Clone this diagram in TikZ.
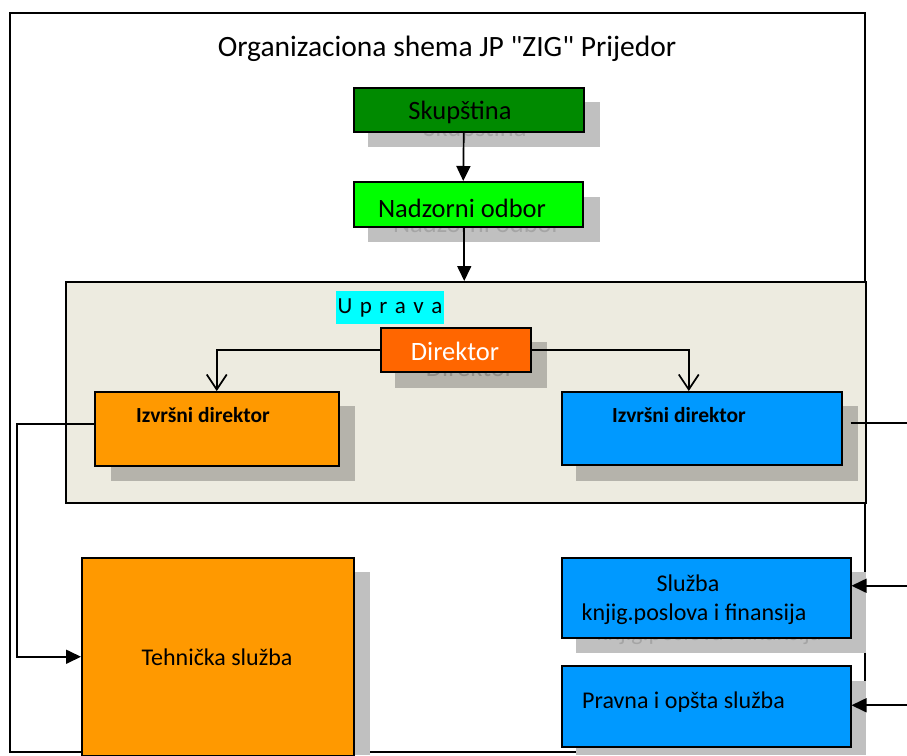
\documentclass[tikz,border=0pt]{standalone}
\usepackage{fontspec}
\setmainfont{Carlito}[Ligatures=TeXOff]
\usetikzlibrary{arrows.meta,calc}
\definecolor{skupgreen}{RGB}{0,138,0}
\definecolor{nadgreen}{RGB}{0,255,0}
\definecolor{upravabg}{RGB}{237,235,224}
\definecolor{labelcyan}{RGB}{0,255,255}
\definecolor{dirorange}{RGB}{255,102,0}
\definecolor{boxorange}{RGB}{255,153,0}
\definecolor{boxblue}{RGB}{0,153,255}
\definecolor{shadowout}{RGB}{192,192,192}
\definecolor{shadowin}{RGB}{181,179,171}
\definecolor{ghosttext}{RGB}{165,165,165}
\tikzset{
  box/.style={draw=black, line width=1.5pt, anchor=north west, inner sep=0pt},
  txt/.style={inner sep=0pt, font=\fontsize{24}{28}\selectfont},
  bigtxt/.style={inner sep=0pt, font=\fontsize{26.5}{30}\selectfont},
  boldtxt/.style={inner sep=0pt, font=\bfseries\fontsize{21.5}{25}\selectfont},
  ghost/.style={text=ghosttext},
  conn/.style={draw=black, line width=1.7pt},
  tri/.style={-{Triangle[length=15pt,width=14pt]}},
  vtip/.style={-{Straight Barb[length=15pt,width=20pt]}},
}
\newcommand{\lsp}{\hspace{7.5pt}}
\begin{document}
\begin{tikzpicture}[x=1pt,y=-1pt]
\useasboundingbox (0,0) rectangle (907,755);
\fill[white] (0,0) rectangle (907,755);
\coordinate (edgeR) at (907,0);
\coordinate (bendL) at (17,540);

% outer frame
\draw[line width=2pt] (10,13) rectangle (865,752);
\node[inner sep=0pt, font=\fontsize{29.5}{33}\selectfont] (title) at (447,49) {Organizaciona shema JP "ZIG" Prijedor};

% Skupstina
\fill[shadowout] (368,102) rectangle (600,147);
\node[bigtxt, ghost] (skupG) at (475,129) {Skupština};
\node[box, fill=skupgreen, minimum width=230pt, minimum height=44pt] (skup) at (353,87) {};
\node[bigtxt] (skupT) at (460,112) {Skupština};

% Nadzorni odbor
\fill[shadowout] (368,197) rectangle (600,242);
\node[bigtxt, ghost] (nadG) at (477,223) {Nadzorni odbor};
\node[box, fill=nadgreen, minimum width=229pt, minimum height=45pt] (nad) at (353,181) {};
\node[bigtxt] (nadT) at (462,208) {Nadzorni odbor};

\draw[conn, tri] ([xshift=-5pt]skup.south) -- ([xshift=-5pt]nad.north);

% Uprava
\node[box, fill=upravabg, minimum width=800pt, minimum height=221pt] (upr) at (65,281) {};
\draw[conn, tri] ([xshift=-4pt]nad.south) -- ([xshift=-4pt]nad.south |- upr.north);
\node[fill=labelcyan, inner sep=0pt, minimum width=108pt, minimum height=33pt, anchor=north west] (uprLbl) at (336,291) {};
\node[inner sep=0pt, font=\fontsize{23}{27}\selectfont] (uprT) at (390,308) {U\lsp p\lsp r\lsp a\lsp v\lsp a};

% Direktor
\fill[shadowin] (395,342) rectangle (547,388);
\node[bigtxt, text=shadowin!80!black] (dirG) at (470,367) {Direktor};
\node[box, fill=dirorange, minimum width=150pt, minimum height=44pt] (dir) at (380,327) {};
\node[bigtxt, text=white] (dirT) at (455,351) {Direktor};

% Izvrsni direktori
\fill[shadowin] (111,406) rectangle (355,481);
\fill[shadowin] (576,406) rectangle (858,481);
\node[box, fill=boxorange, minimum width=244pt, minimum height=74pt] (izv1) at (94,391) {};
\node[box, fill=boxblue, minimum width=280pt, minimum height=73pt] (izv2) at (561,391) {};
\node[boldtxt] (izv1T) at (203,415) {Izvršni direktor};
\node[boldtxt] (izv2T) at (679,415) {Izvršni direktor};

\draw[conn, vtip] (dir.west) -| (izv1.north);
\draw[conn, vtip] (dir.east) -| ([xshift=-13pt]izv2.north);

% Tehnicka sluzba
\fill[shadowout] (96,572) rectangle (370,755);
\node[box, fill=boxorange, minimum width=272pt, minimum height=198pt] (teh) at (81,557) {};
\node[txt] (tehT) at (217,657) {Tehnička služba};

% Sluzba knjig.
\fill[shadowout] (576,572) rectangle (866,653);
\node[txt, ghost] (sluzG) at (709,634) {knjig.poslova i finansija};
\node[box, fill=boxblue, minimum width=289pt, minimum height=80pt] (sluz) at (561,557) {};
\node[txt] (sluzT1) at (688,583) {Služba};
\node[txt] (sluzT2) at (694,614) {knjig.poslova i finansija};

% Pravna
\fill[shadowout] (576,681) rectangle (866,755);
\node[box, fill=boxblue, minimum width=289pt, minimum height=81pt] (prav) at (561,665) {};
\node[txt, anchor=west] (pravT) at (582,702) {Pravna i opšta služba};

% connectors
\draw[conn, tri] ([yshift=5pt]izv1.west) -| (bendL) |- (teh.west);
\draw[conn] ([xshift=8pt,yshift=5pt]izv2.east) -- ([yshift=5pt]izv2.east -| edgeR);
\draw[conn, tri] ([yshift=12pt]sluz.east -| edgeR) -- ([yshift=12pt]sluz.east);
\draw[conn, tri] ([yshift=1pt]prav.east -| edgeR) -- ([yshift=1pt]prav.east);
\end{tikzpicture}
\end{document}
